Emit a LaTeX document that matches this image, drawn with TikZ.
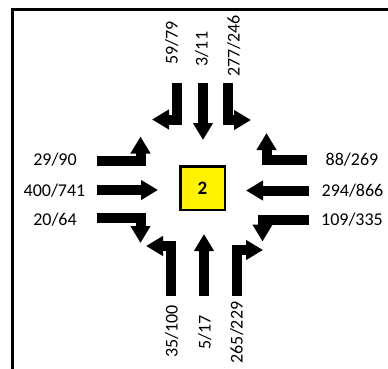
\documentclass[tikz,border=0pt]{standalone}
\usepackage{fontspec}
\setmainfont{Carlito}
\usetikzlibrary{arrows.meta}
\begin{document}
\begin{tikzpicture}[x=1pt,y=-1pt,
  lane/.style={line width=10pt, line join=miter, line cap=butt,
    -{Triangle[width=19pt,length=17pt]}},
  vol/.style={font=\fontsize{18}{20}\selectfont, inner sep=0pt,
    text height=11.4pt, text depth=0pt},
  frameline/.style={line width=3pt}]
\useasboundingbox (0,0) rectangle (388,369);
% frame
\draw[frameline] (11,9.5) -- (388,9.5);
\draw[frameline] (12.5,8) -- (12.5,369);
% intersection number
\node[draw, line width=2.5pt, fill=yellow, minimum width=44.5pt,
  minimum height=43.5pt, inner sep=0pt,
  font=\fontsize{19}{20}\selectfont\bfseries] (int) at (202.5,188) {2};
% north approach
\draw[lane] (177,83) -- (177,119.5) -- (152,119.5);
\draw[lane] (203,83) -- (203,140);
\draw[lane] (228,83) -- (228,120) -- (251,120);
% west approach
\draw[lane] (97,160.5) -- (140.5,160.5) -- (140.5,136.5);
\draw[lane] (97,190) -- (158,190);
\draw[lane] (97,218) -- (140.5,218) -- (140.5,243);
% east approach
\draw[lane] (307,160) -- (266.5,160) -- (266.5,133);
\draw[lane] (309,190.5) -- (246,190.5);
\draw[lane] (309,219.5) -- (262.5,219.5) -- (262.5,241.5);
% south approach
\draw[lane] (171,296) -- (171,246) -- (146,246);
\draw[lane] (204,296) -- (204,234);
\draw[lane] (237,296) -- (237,250) -- (263,250);
% volumes
\node[vol] (w1) at (55,160) {29/90};
\node[vol] (w2) at (54.5,191) {400/741};
\node[vol] (w3) at (55,220) {20/64};
\node[vol] (e1) at (352,160) {88/269};
\node[vol] (e2) at (352.5,191) {294/866};
\node[vol] (e3) at (352,220) {109/335};
\node[vol, rotate=90] (n1) at (172,43) {59/79};
\node[vol, rotate=90] (n2) at (202,49) {3/11};
\node[vol, rotate=90] (n3) at (234,46) {277/246};
\node[vol, rotate=90] (s1) at (172,331.5) {35/100};
\node[vol, rotate=90] (s2) at (205,332.5) {5/17};
\node[vol, rotate=90] (s3) at (237,332.5) {265/229};
\end{tikzpicture}
\end{document}
